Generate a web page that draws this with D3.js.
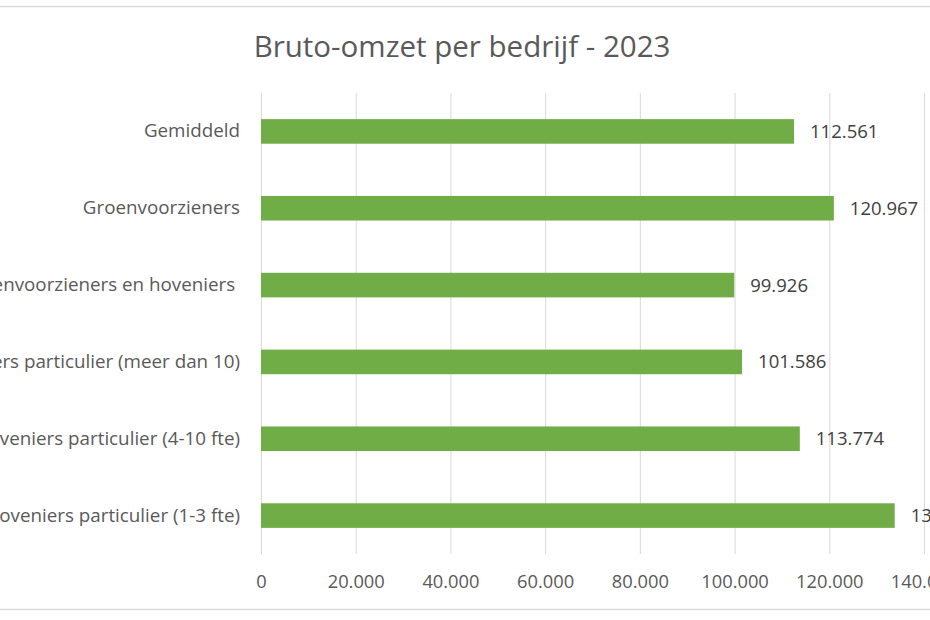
<!DOCTYPE html>
<html>
<head>
<meta charset="utf-8">
<script src="https://cdn.jsdelivr.net/npm/d3@7"></script>
<style>
  html, body { margin: 0; padding: 0; background: #fff; overflow: hidden; }
  svg { display: block; font-family: "Open Sans", sans-serif; }
</style>
</head>
<body>
<div id="chart"></div>
<script>
// data
const categorieen = [
  "Gemiddeld",
  "Groenvoorzieners",
  "Groenvoorzieners en hoveniers ",
  "Hoveniers particulier (meer dan 10)",
  "Hoveniers particulier (4-10 fte)",
  "Hoveniers particulier (1-3 fte)"
];
const omzet = [112561, 120967, 99926, 101586, 113774, 133812];
const xTicks = [0, 20000, 40000, 60000, 80000, 100000, 120000, 140000];
const titel = "Bruto-omzet per bedrijf - 2023";

const W = 930, H = 620;
const margin = { top: 93, left: 261 };
const width = 924 - margin.left;
const height = 554 - margin.top;

const nl = d3.formatLocale({ decimal: ",", thousands: ".", grouping: [3], currency: ["€", ""] });
const fmt = nl.format(",.0f");

const svg = d3.select("#chart").append("svg")
  .attr("width", W)
  .attr("height", H);

// kader
svg.append("rect")
  .attr("x", -20).attr("y", 6.5)
  .attr("width", W + 40).attr("height", 603)
  .attr("fill", "#fff")
  .attr("stroke", "#d9d9d9")
  .attr("stroke-width", 1.5);

svg.append("text")
  .attr("x", 462).attr("y", 57)
  .attr("text-anchor", "middle")
  .attr("font-size", 29.5)
  .attr("fill", "#595959")
  .text(titel);

const g = svg.append("g")
  .attr("transform", "translate(" + margin.left + "," + margin.top + ")");

const x = d3.scaleLinear().domain([0, 140000]).range([0, width]);
const y = d3.scaleBand().domain(categorieen).range([0, height]).paddingInner(0.68).paddingOuter(0.34);

// rasterlijnen + ticks
const xAxis = g.append("g")
  .attr("transform", "translate(0," + height + ")")
  .call(d3.axisBottom(x).tickValues(xTicks).tickFormat(fmt).tickSize(-height).tickPadding(21));
xAxis.select(".domain").remove();
xAxis.selectAll("line").attr("stroke", "#d9d9d9").attr("stroke-width", 1);
xAxis.selectAll("text")
  .attr("font-size", 18.3)
  .attr("fill", "#595959")
  .attr("font-family", "Open Sans, sans-serif");

const yAxis = g.append("g")
  .call(d3.axisLeft(y).tickSize(0).tickPadding(21));
yAxis.select(".domain").remove();
yAxis.selectAll("text")
  .attr("font-size", 18.8)
  .attr("fill", "#595959")
  .attr("font-family", "Open Sans, sans-serif")
  .style("white-space", "pre");

g.selectAll(".bar")
  .data(omzet)
  .enter()
  .append("rect")
  .attr("class", "bar")
  .attr("x", x(0))
  .attr("y", (d, i) => y(categorieen[i]))
  .attr("width", d => x(d))
  .attr("height", y.bandwidth())
  .attr("fill", "#70ad47");

g.selectAll(".lbl")
  .data(omzet)
  .enter()
  .append("text")
  .attr("class", "lbl")
  .attr("x", d => x(d) + 16)
  .attr("y", (d, i) => y(categorieen[i]) + y.bandwidth() / 2)
  .attr("dy", "0.35em")
  .attr("font-size", 18.5)
  .attr("fill", "#404040")
  .text(d => fmt(d));
</script>
</body>
</html>
